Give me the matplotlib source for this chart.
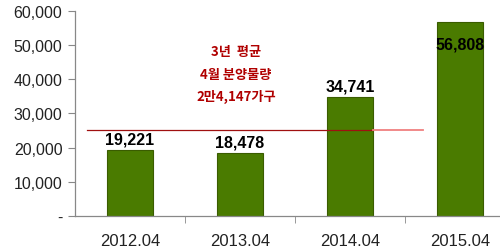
import matplotlib
matplotlib.use("Agg")
import matplotlib.pyplot as plt

categories = ["2012.04", "2013.04", "2014.04", "2015.04"]
values = [19221, 18478, 34741, 56808]
value_labels = ["19,221", "18,478", "34,741", "56,808"]
avg_line = 25100
yticks = [0, 10000, 20000, 30000, 40000, 50000, 60000]
ytick_labels = ["-", "10,000", "20,000", "30,000", "40,000", "50,000", "60,000"]
note_lines = ["3년  평균", "4월 분양물량", "2만4,147가구"]

plt.rcParams['font.family'] = ['Liberation Sans', 'Noto Sans CJK KR', 'DejaVu Sans']

fig = plt.figure(figsize=(5, 2.53), dpi=100)
ax = fig.add_axes([0.15, 0.1423, 0.88, 0.8103])

x = list(range(len(categories)))
ax.bar(x, values, width=0.41, color='#4a7b00', edgecolor='#3a5c00', linewidth=0.8, zorder=2)

ax.set_xlim(-0.5, 3.5)
ax.set_ylim(0, 60000)

# average line
ax.plot([-0.39, 2.21], [avg_line, avg_line], color='#a01010', lw=0.9, zorder=3)
ax.plot([2.21, 2.66], [avg_line, avg_line], color='#f08080', lw=1.3, zorder=3)

# value labels
for i, (v, lab) in enumerate(zip(values, value_labels)):
    if i == 3:
        ax.annotate(lab, (i, v), xytext=(0, -16), textcoords='offset points',
                    ha='center', va='center', fontsize=11.5, fontweight='bold', color='black', zorder=4)
    else:
        ax.annotate(lab, (i, v), xytext=(0, 8), textcoords='offset points',
                    ha='center', va='center', fontsize=11.5, fontweight='bold', color='black', zorder=4)

# note text
note_y = [52, 75, 97]
for t, py in zip(note_lines, note_y):
    fig.text(236 / 500, 1 - py / 253, t, ha='center', va='center', fontsize=9.5,
             color='#b00000', fontweight='bold', family=['Noto Sans CJK KR', 'DejaVu Sans'])

ax.set_yticks(yticks)
ax.set_yticklabels(ytick_labels, fontsize=11.5, color='#222222')
ax.set_xticks(x)
ax.set_xticklabels(categories, fontsize=12, color='#222222')
ax.set_xticks([0.5, 1.5, 2.5], minor=True)
ax.tick_params(axis='x', which='major', length=0, pad=12)
ax.tick_params(axis='x', which='minor', length=5, direction='out', color='#888888')
ax.tick_params(axis='y', length=5, direction='out', color='#888888', pad=4)

for s in ['top', 'right']:
    ax.spines[s].set_visible(False)
for s in ['left', 'bottom']:
    ax.spines[s].set_color('#888888')
    ax.spines[s].set_linewidth(0.9)

fig.savefig("out.png", dpi=100)
